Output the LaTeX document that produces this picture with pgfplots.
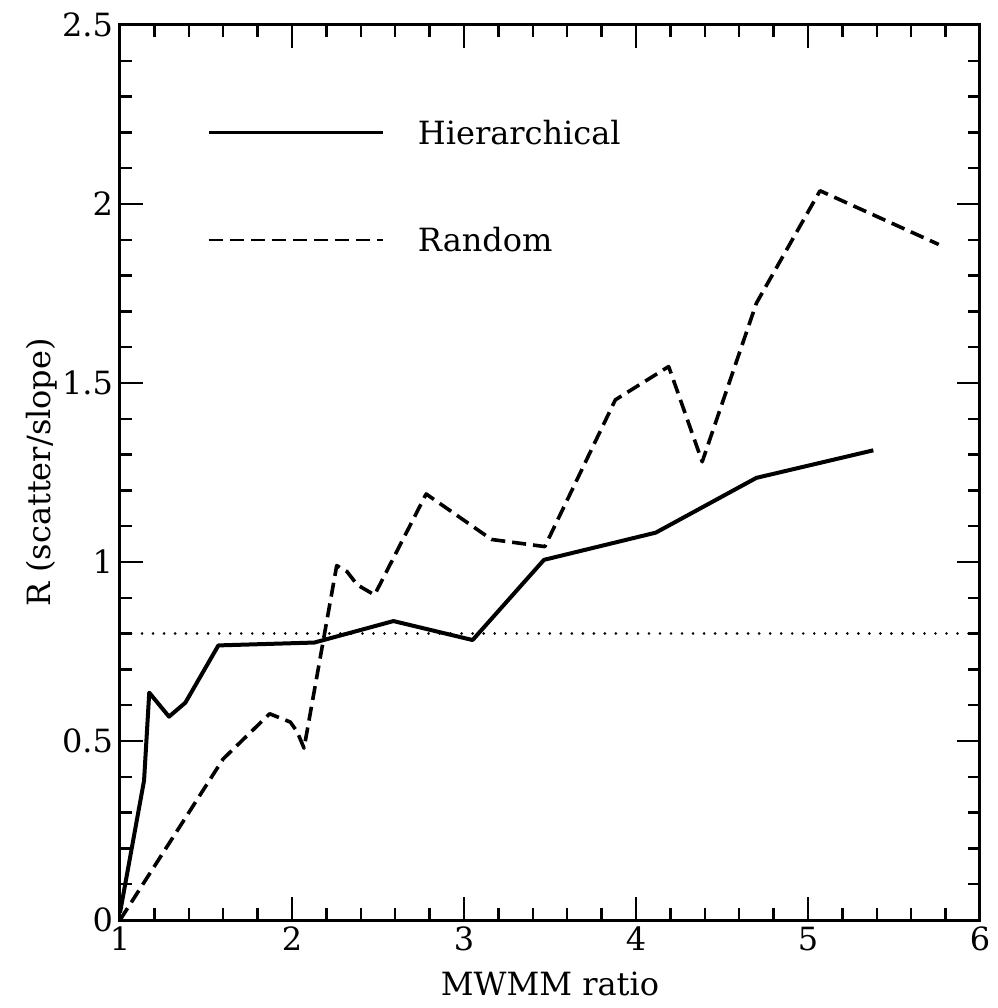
\documentclass[border=0pt]{standalone}
\usepackage{fontspec}
\setmainfont{DejaVu Serif}
\usepackage{pgfplots}
\pgfplotsset{compat=1.18}
\usetikzlibrary{calc}
\begin{document}
\begin{tikzpicture}
\begin{axis}[
  name=ax,
  scale only axis,
  width=430pt, height=447.5pt,
  xmin=1, xmax=6, ymin=0, ymax=2.5,
  xtick={1,2,3,4,5,6},
  ytick={0,0.5,1,1.5,2,2.5},
  yticklabels={0,0.5,1,1.5,2,2.5},
  xticklabels={1,2,3,4,5,6},
  /pgf/number format/assume math mode=true,
  minor x tick num=4, minor y tick num=4,
  tick align=inside,
  major tick length=11.5pt, minor tick length=6pt,
  axis line style={line width=1.5pt},
  every tick/.style={line width=1.2pt, black},
  tick label style={font=\fontsize{16}{19}\selectfont},
  label style={font=\fontsize{16}{19}\selectfont},
  xlabel={MWMM ratio},
  ylabel={R (scatter/slope)},
  x label style={at={(axis description cs:0.5,-0.071)}, anchor=center},
  y label style={at={(axis description cs:-0.091,0.5)}, anchor=center},
  clip=false,
]
% dotted reference line
\addplot[black, line width=1.4pt, line cap=round, dash pattern=on 0.01pt off 5.5pt] coordinates {(1,0.8) (6,0.8)};
% Hierarchical
\addplot[black, line width=2pt, line join=round] coordinates {
(1.0,0.02) (1.14,0.39) (1.17,0.635) (1.285,0.568) (1.38,0.607) (1.572,0.767)
(2.13,0.775) (2.59,0.835) (3.05,0.782) (3.465,1.006) (4.115,1.082) (4.70,1.235) (5.38,1.312)
};
% Random
\addplot[black, line width=1.8pt, line join=round, dash pattern=on 7pt off 3.5pt] coordinates {
(1.0,0.0) (1.6,0.45) (1.87,0.576) (1.99,0.553) (2.03,0.526) (2.07,0.48)
(2.26,0.99) (2.32,0.973) (2.38,0.936) (2.48,0.908) (2.78,1.19) (3.16,1.063)
(3.47,1.043) (3.88,1.453) (4.19,1.546) (4.385,1.28) (4.70,1.723) (5.07,2.037) (5.76,1.887)
};
% legend
\draw[black, line width=1.2pt] (axis cs:1.517,2.2) -- (axis cs:2.527,2.2);
\node[anchor=west, inner sep=0pt, font=\fontsize{16}{19}\selectfont] at (axis cs:2.73,2.2) {Hierarchical};
\draw[black, line width=1.2pt, dash pattern=on 7pt off 3.5pt] (axis cs:1.517,1.9) -- (axis cs:2.527,1.9);
\node[anchor=west, inner sep=0pt, font=\fontsize{16}{19}\selectfont] at (axis cs:2.73,1.9) {Random};
\end{axis}
\pgfresetboundingbox
\path ($(ax.south west)+(-60pt,-44pt)$) rectangle ($(ax.north east)+(9pt,12.5pt)$);
\end{tikzpicture}
\end{document}
